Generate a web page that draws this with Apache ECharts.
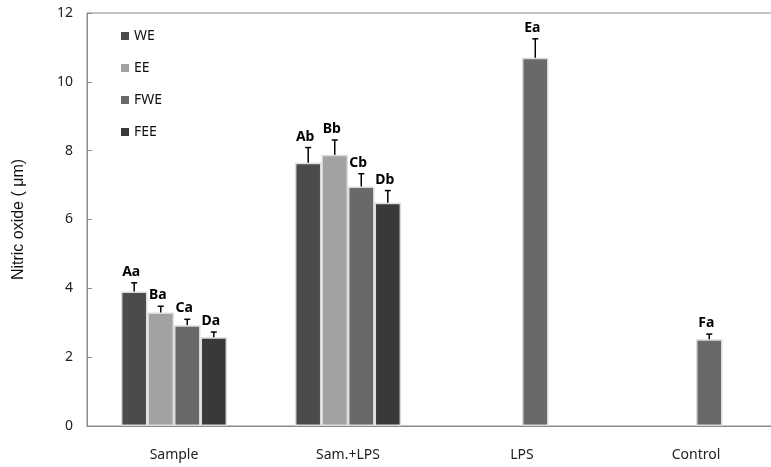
<!DOCTYPE html>
<html>
<head>
<meta charset="utf-8">
<script src="https://cdn.jsdelivr.net/npm/echarts@6/dist/echarts.min.js"></script>
<style>
html,body{margin:0;padding:0;background:#fff;overflow:hidden}
#main{width:790px;height:467px}
</style>
</head>
<body>
<div id="main"></div>
<script>
var categories=['Sample','Sam.+LPS','LPS','Control']
var seriesNames=['WE','EE','FWE','FEE']
var colors=['#4b4b4b','#a2a2a2','#696969','#393939']
// means per series, per category (null = no bar)
var weVals=[3.91,7.65,null,null]
var eeVals=[3.30,7.88,null,null]
var fweVals=[2.93,6.96,10.70,2.52]
var feeVals=[2.58,6.49,null,null]
// standard errors
var weErr=[0.25,0.44,null,null]
var eeErr=[0.18,0.43,null,null]
var fweErr=[0.17,0.37,0.55,0.15]
var feeErr=[0.15,0.35,null,null]
// letters above bars
var weLab=['Aa','Ab',null,null]
var eeLab=['Ba','Bb',null,null]
var fweLab=['Ca','Cb','Ea','Fa']
var feeLab=['Da','Db',null,null]

var vals=[weVals,eeVals,fweVals,feeVals]
var errs=[weErr,eeErr,fweErr,feeErr]
var labs=[weLab,eeLab,fweLab,feeLab]
var gapPct=39

var chart=echarts.init(document.getElementById('main'),null,{renderer:'canvas'})

var errData=[]
for(var s=0;s<4;s++){
  for(var c=0;c<categories.length;c++){
    if(vals[s][c]==null) continue
    errData.push([c,vals[s][c],errs[s][c],s,labs[s][c]])
  }
}

var series=[]
for(var i=0;i<4;i++){
  series.push({
    name:seriesNames[i],
    type:'bar',
    data:vals[i].map(function(v){return v==null?'-':v}),
    barGap:'0%',
    barCategoryGap:gapPct+'%',
    itemStyle:{color:colors[i],borderColor:'#dcdcdc',borderWidth:1.5},
    emphasis:{disabled:true}
  })
}
series.push({
  type:'custom',
  data:errData,
  z:5,
  renderItem:function(params,api){
    var cat=api.value(0),v=api.value(1),e=api.value(2),slot=api.value(3)
    var lab=errData[params.dataIndex][4]
    var band=api.size([1,0])[0]
    var bw=band*(1-gapPct/100)/4
    var base=api.coord([cat,v])
    var topP=api.coord([cat,v+e])
    var x=base[0]+(slot-1.5)*bw
    return {
      type:'group',
      children:[
        {type:'line',shape:{x1:x,y1:base[1],x2:x,y2:topP[1]},style:{stroke:'#000',lineWidth:1.5}},
        {type:'line',shape:{x1:x-3,y1:topP[1],x2:x+3,y2:topP[1]},style:{stroke:'#000',lineWidth:1.5}},
        {type:'text',x:x-3,y:topP[1]-4,style:{text:lab,fill:'#000',font:'bold 14px "Noto Sans"',align:'center',verticalAlign:'bottom'}}
      ]
    }
  }
})

var option={
  animation:false,
  legend:{
    data:seriesNames,
    orient:'vertical',
    left:116,
    top:24,
    itemWidth:8,
    itemHeight:8,
    itemGap:18,
    icon:'rect',
    itemStyle:{borderWidth:0},
    textStyle:{fontSize:14,color:'#111',fontFamily:'Noto Sans'}
  },
  grid:{left:87,top:13,width:696,bottom:41,show:true,borderColor:'#8a8a8a',borderWidth:1,containLabel:false},
  xAxis:{
    type:'category',
    data:categories,
    axisTick:{show:false},
    axisLine:{lineStyle:{color:'#8a8a8a',width:1}},
    axisLabel:{fontSize:14,color:'#222',margin:22,fontFamily:'Noto Sans'}
  },
  yAxis:{
    type:'value',
    min:0,
    max:12,
    interval:2,
    name:'Nitric oxide ( μm)',
    nameLocation:'middle',
    nameGap:60,
    nameTextStyle:{fontSize:16,color:'#111',fontFamily:'Liberation Sans'},
    splitLine:{show:false},
    axisLine:{show:true,lineStyle:{color:'#8a8a8a',width:1}},
    axisTick:{show:true,inside:true,length:5,lineStyle:{color:'#8a8a8a'}},
    axisLabel:{fontSize:14,color:'#222',margin:14,fontFamily:'Noto Sans'}
  },
  series:series
}
chart.setOption(option)
</script>
</body>
</html>
